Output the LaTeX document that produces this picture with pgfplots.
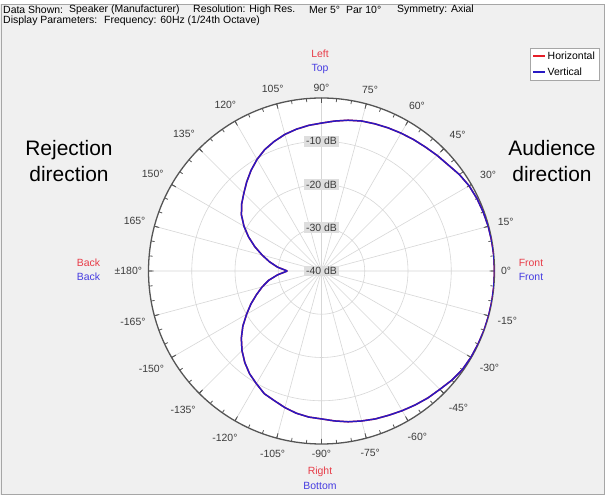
\documentclass[border=0pt]{standalone}
\usepackage{fontspec}
\setmainfont{Liberation Sans}
\usepackage{pgfplots}
\usepackage{pgfplotstable}
\usepgfplotslibrary{polar}
\pgfplotsset{compat=1.18}
\definecolor{bgcol}{RGB}{240,240,240}
\definecolor{gridcol}{RGB}{215,215,215}
\definecolor{axcol}{RGB}{85,85,85}
\definecolor{labcol}{RGB}{60,60,60}
\definecolor{redlab}{RGB}{232,60,72}
\definecolor{bluelab}{RGB}{70,60,225}
\definecolor{curveblue}{RGB}{40,25,195}
\definecolor{curvered}{RGB}{230,30,40}
\definecolor{dbbox}{RGB}{222,222,222}

\pgfplotstableread{
ang db
-180 -32.1
-175 -29.8
-170 -27.6
-165 -25.8
-160 -24.0
-155 -22.0
-150 -20.0
-145 -17.8
-140 -15.8
-135 -14.0
-130 -12.4
-125 -11.0
-120 -9.9
-115 -8.7
-110 -8.1
-105 -7.3
-100 -6.6
-95 -6.1
-90 -5.8
-85 -5.2
-80 -4.6
-75 -4.1
-70 -3.6
-65 -3.2
-60 -2.7
-55 -2.2
-50 -1.7
-45 -1.3
-40 -0.7
-35 -0.25
-30 -0.1
-25 -0.05
-20 0
-15 0
-10 0
-5 0
0 0
5 0
10 -0.05
15 -0.1
20 -0.2
25 -0.35
30 -0.6
35 -1.1
40 -1.8
45 -2.2
50 -2.6
55 -2.9
60 -3.2
65 -3.5
70 -3.8
75 -4.1
80 -4.6
85 -5.2
90 -5.8
95 -6.2
100 -6.7
105 -7.3
110 -8.1
115 -9.0
120 -10.2
125 -11.6
130 -13.1
135 -14.6
140 -15.9
145 -17.4
150 -19.3
155 -21.4
160 -23.6
165 -25.8
170 -27.8
175 -29.8
180 -32.1
}\vdata

\begin{document}
\begin{tikzpicture}[x=1bp,y=1bp]
\path[use as bounding box] (0,0) rectangle (605,495);
\fill[bgcol] (0,0) rectangle (605,495);
\fill[white] (0,491) rectangle (605,495);
\draw[gray!70, line width=0.7pt] (1,0.5) rectangle (604.3,491);
% header
\begin{scope}[every node/.style={anchor=west, inner sep=0pt, font=\fontsize{10.5}{11}\selectfont, text=black}]
\node at (3,485.5) {Data Shown:};
\node at (69,485.5) {Speaker (Manufacturer)};
\node at (193,485.5) {Resolution: High Res.};
\node at (309,485.5) {Mer 5°};
\node at (346,485.5) {Par 10°};
\node at (397,485.5) {Symmetry: Axial};
\node at (3,474.5) {Display Parameters:};
\node at (104,474.5) {Frequency: 60Hz (1/24th Octave)};
\end{scope}
% plot background
\fill[white] (321.5,224) circle (173);
\begin{polaraxis}[
  at={(321.5bp,224bp)}, anchor=center,
  scale only axis, width=346bp, height=346bp,
  xmin=0, xmax=360, ymin=0, ymax=40,
  xtick={0,15,...,345},
  xticklabels={0°,15°,30°,45°,60°,75°,90°,105°,120°,135°,150°,165°,±180°,-165°,-150°,-135°,-120°,-105°,-90°,-75°,-60°,-45°,-30°,-15°},
  minor xtick={0,5,...,355},
  ytick={10,20,30}, yticklabels={},
  grid=major,
  major grid style={draw=gridcol, line width=0.6pt},
  separate axis lines,
  x axis line style={draw=axcol, line width=1.3pt},
  y axis line style={draw=none},
  tick align=outside,
  major tick length=5bp, minor tick length=3.5bp,
  every tick/.style={draw=axcol, line width=0.8pt},
  ytick style={draw=none},
  xticklabel style={font=\fontsize{10.5}{12}\selectfont, text=labcol, inner sep=4.5bp, outer sep=7bp},
  legend style={at={(1.3035,1.145)}, anchor=north east, draw=gray!70, fill=white,
    font=\fontsize{10.5}{12}\selectfont, inner xsep=2.5pt, inner ysep=1.5pt, row sep=3pt,
    cells={anchor=west}},
  legend image code/.code={\draw[#1, line width=1.5pt] (0bp,0bp) -- (12bp,0bp);},
]
\addplot[color=curvered, draw=curvered, line width=1.5pt, no markers] table[x=ang, y expr=\thisrow{db}+40] {\vdata};
\addlegendentry{Horizontal}
\addplot[color=curveblue, draw=curveblue, line width=1.5pt, no markers] table[x=ang, y expr=\thisrow{db}+40] {\vdata};
\addlegendentry{Vertical}
\begin{scope}[every node/.style={fill=dbbox, inner xsep=2.5pt, inner ysep=1.5pt, font=\fontsize{10.5}{12}\selectfont, text=labcol}]
\node at (axis cs:90,30) {-10 dB};
\node at (axis cs:90,20) {-20 dB};
\node at (axis cs:90,10) {-30 dB};
\node at (axis cs:90,0) {-40 dB};
\end{scope}
\end{polaraxis}
% direction labels
\begin{scope}[every node/.style={inner sep=0pt, font=\fontsize{10.5}{12}\selectfont}]
\node[text=redlab] at (320,441) {Left};
\node[text=bluelab] at (320,426) {Top};
\node[text=redlab] at (88.5,232) {Back};
\node[text=bluelab] at (88.5,218) {Back};
\node[text=redlab] at (531,232) {Front};
\node[text=bluelab] at (531,218) {Front};
\node[text=redlab] at (320,23.5) {Right};
\node[text=bluelab] at (320,9) {Bottom};
\end{scope}
\node[align=center, inner sep=0pt, font=\fontsize{21}{27}\selectfont] at (69,334) {Rejection\\direction};
\node[align=center, inner sep=0pt, font=\fontsize{21}{27}\selectfont] at (552,334) {Audience\\direction};
\end{tikzpicture}
\end{document}
